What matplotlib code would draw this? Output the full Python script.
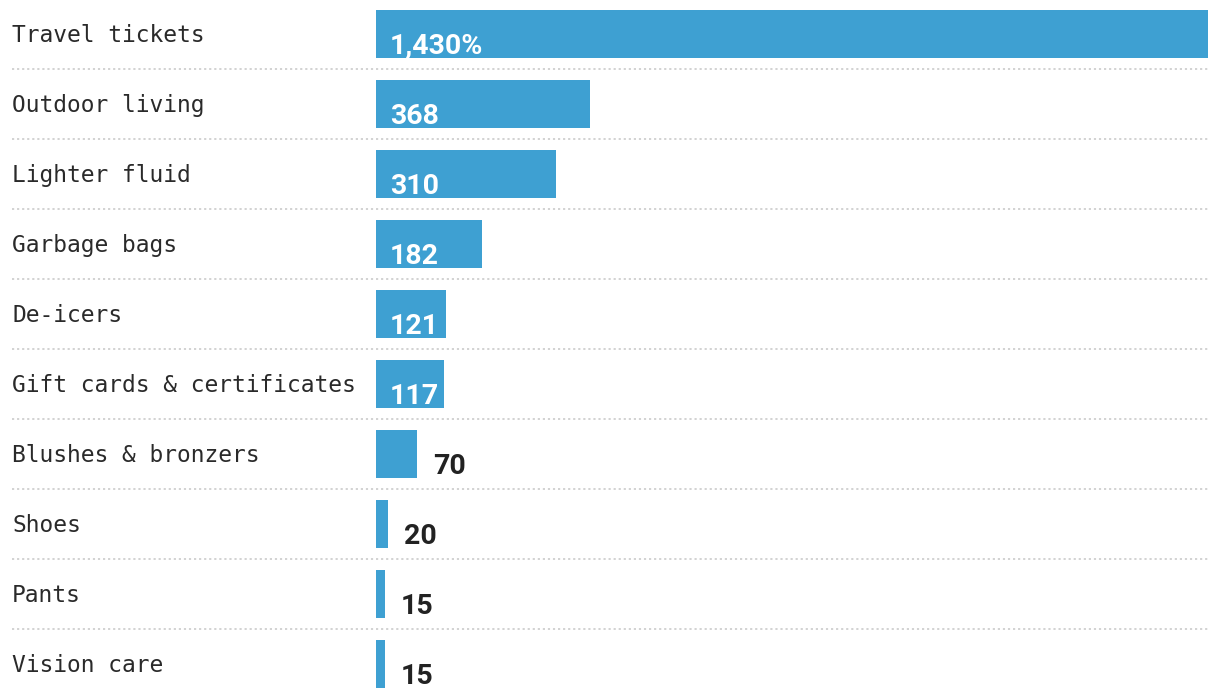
import matplotlib
matplotlib.use("Agg")
import matplotlib.pyplot as plt
import matplotlib.transforms as mtransforms

# === Data ===
categories = ["Travel tickets", "Outdoor living", "Lighter fluid", "Garbage bags",
              "De-icers", "Gift cards & certificates", "Blushes & bronzers",
              "Shoes", "Pants", "Vision care"]
values = [1430, 368, 310, 182, 121, 117, 70, 20, 15, 15]
value_labels = ["1,430%", "368", "310", "182", "121", "117", "70", "20", "15", "15"]

# === Style ===
bar_color = "#3ea0d2"
text_dark = "#222222"
grid_color = "#cfcfcf"
W, H = 1220, 698
px_per_unit = 832 / 1430     # bar scale in pixels per unit
x0_px = 376                  # left edge of bars
row_px = 70

fig = plt.figure(figsize=(W / 100, H / 100), dpi=100)
ax = fig.add_axes([0, 0, 1, 1])
ax.set_xlim(-x0_px / px_per_unit, (W - x0_px) / px_per_unit)
ax.set_ylim((H - 34) / row_px, -34 / row_px)
ax.axis("off")

pos = list(range(len(categories)))
ax.barh(pos, values, height=48 / row_px, color=bar_color, left=0)

# separators between rows
for i in pos[:-1]:
    ax.axhline(i + 0.5, xmin=12 / W, xmax=1208 / W, color=grid_color,
               lw=1.3, linestyle=(0, (1.2, 1.6)))

label_tr = mtransforms.blended_transform_factory(ax.transAxes, ax.transData)
for i, (cat, v, lab) in enumerate(zip(categories, values, value_labels)):
    ax.text(12 / W, i + 8 / row_px, cat, transform=label_tr, ha="left",
            va="baseline", fontsize=16.5, family="DejaVu Sans Mono",
            color="#2a2a2a")
    if v >= 100:
        x, col = 14 / px_per_unit, "white"
    else:
        x, col = v + 16 / px_per_unit, text_dark
    ax.text(x, i + 19.5 / row_px, lab, ha="left", va="baseline", fontsize=20.5,
            fontweight="bold", family=["Roboto", "DejaVu Sans"], color=col)

fig.savefig("out.png", dpi=100)
